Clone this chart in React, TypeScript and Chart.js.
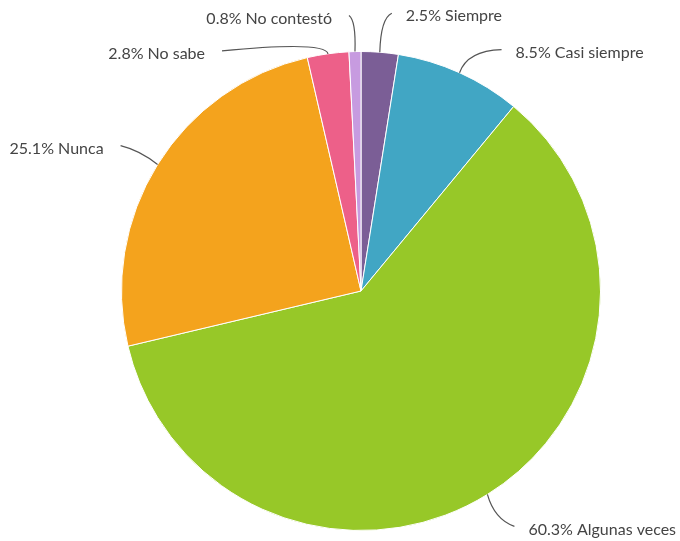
import React, { useEffect, useRef } from "react";
import { Chart, registerables } from "chart.js";

Chart.register(...registerables);

const categories = ["Siempre", "Casi siempre", "Algunas veces", "Nunca", "No sabe", "No contestó"];
const percentages = [2.5, 8.5, 60.3, 25.1, 2.8, 0.8];
const sliceColors = ["#7b5e96", "#41a6c4", "#97c828", "#f4a31d", "#ed6089", "#c79be0"];
// leader line layout relative to each slice's outer anchor: end (dx, dy), control (cx, cy)
const leaderEnd = [
  [12, -39],
  [42, -23],
  [27, 32],
  [-37, -19],
  [-106, -3],
  [-6, -36],
];
const leaderCtrl = [
  [1, -34],
  [8, -22],
  [7, 25],
  [-17, -14],
  [-2, -13],
  [1, -31],
];

const labelPlugin = {
  id: "leaderLabels",
  afterDraw(chart: any) {
    const ctx = chart.ctx;
    const meta = chart.getDatasetMeta(0);
    ctx.save();
    ctx.font = "16px Lato";
    ctx.textBaseline = "middle";
    meta.data.forEach((arc: any, i: number) => {
      const { x, y, startAngle, endAngle, outerRadius } = arc.getProps(
        ["x", "y", "startAngle", "endAngle", "outerRadius"],
        true
      );
      const mid = (startAngle + endAngle) / 2;
      const ax = x + Math.cos(mid) * outerRadius;
      const ay = y + Math.sin(mid) * outerRadius;
      const ex = ax + leaderEnd[i][0];
      const ey = ay + leaderEnd[i][1];
      const cx = ax + leaderCtrl[i][0];
      const cy = ay + leaderCtrl[i][1];
      ctx.strokeStyle = "#555";
      ctx.lineWidth = 1.2;
      ctx.beginPath();
      ctx.moveTo(ax, ay);
      ctx.quadraticCurveTo(cx, cy, ex, ey);
      ctx.stroke();
      const right = leaderEnd[i][0] > 0;
      const text = `${percentages[i]}% ${categories[i]}`;
      ctx.fillStyle = "#444444";
      ctx.textAlign = right ? "left" : "right";
      ctx.fillText(text, right ? ex + 14 : ex - 17, ey + 3);
    });
    ctx.restore();
  },
};

export default function App() {
  const ref = useRef<HTMLCanvasElement>(null);
  useEffect(() => {
    if (!ref.current) return;
    const chart = new Chart(ref.current, {
      type: "pie",
      data: {
        labels: categories,
        datasets: [
          {
            data: percentages,
            backgroundColor: sliceColors,
            borderColor: "#ffffff",
            borderWidth: 1,
          },
        ],
      },
      options: {
        responsive: false,
        animation: false,
        layout: { padding: { left: 121, right: 79, top: 51, bottom: 10 } },
        plugins: {
          legend: { display: false },
          tooltip: { enabled: false },
        },
      },
      plugins: [labelPlugin],
    });
    return () => chart.destroy();
  }, []);
  return (
    <div style={{ position: "fixed", left: 0, top: 0, width: 680, height: 541, background: "#fff" }}>
      <canvas ref={ref} width={680} height={541} />
    </div>
  );
}
